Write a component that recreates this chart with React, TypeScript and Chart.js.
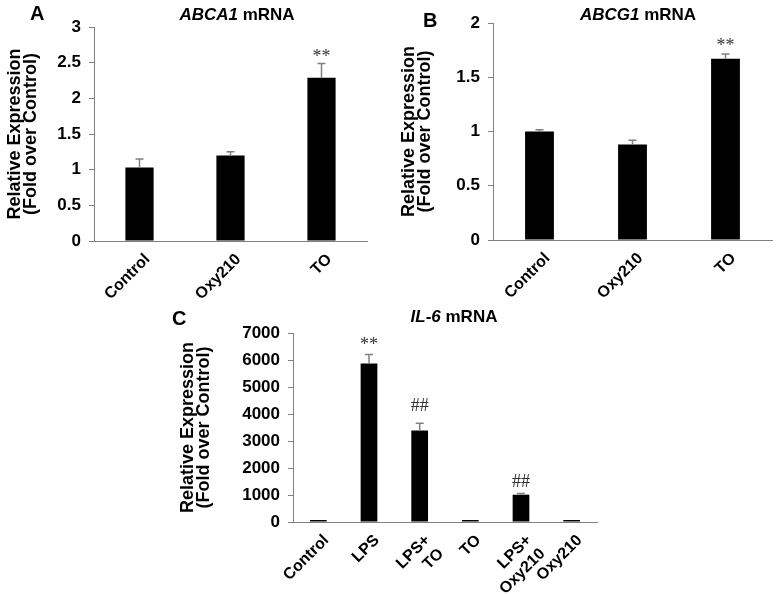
import React, { useEffect, useRef } from 'react';
import { Chart, registerables } from 'chart.js';

Chart.register(...registerables);

const SANS = '"Liberation Sans", Arial, Helvetica, sans-serif';
const SERIF = '"Liberation Serif", "Times New Roman", serif';

// ---------- Panel A: ABCA1 ----------
const categoriesA = ['Control', 'Oxy210', 'TO'];
const valuesA = [1.03, 1.2, 2.29];
const errorsA = [0.12, 0.05, 0.2];
const marksA = ['', '', '**'];
const markLevelsA = [0, 0, 2.63];
const yTicksA = [0, 0.5, 1, 1.5, 2, 2.5, 3];

// ---------- Panel B: ABCG1 ----------
const categoriesB = ['Control', 'Oxy210', 'TO'];
const valuesB = [1.0, 0.88, 1.67];
const errorsB = [0.015, 0.04, 0.045];
const marksB = ['', '', '**'];
const markLevelsB = [0, 0, 1.82];
const yTicksB = [0, 0.5, 1, 1.5, 2];

// ---------- Panel C: IL-6 ----------
const categoriesC = ['Control', 'LPS', ['LPS+', 'TO'], 'TO', ['LPS+', 'Oxy210'], 'Oxy210'];
const valuesC = [1, 5870, 3390, 1, 1010, 1];
const errorsC = [0, 330, 270, 0, 50, 0];
const marksC = ['', '**', '##', '', '##', ''];
const markLevelsC = [0, 6700, 4300, 0, 1480, 0];
const yTicksC = [0, 1000, 2000, 3000, 4000, 5000, 6000, 7000];

const annotPlugin = {
  id: 'annot',
  afterDatasetsDraw(chart: any, _args: any, opts: any) {
    const { ctx } = chart;
    const meta = chart.getDatasetMeta(0);
    const y = chart.scales.y;
    ctx.save();
    ctx.strokeStyle = '#808080';
    ctx.lineWidth = 1.5;
    meta.data.forEach((bar: any, i: number) => {
      const e = opts.errors[i];
      if (e > 0) {
        const yTop = y.getPixelForValue(opts.values[i] + e);
        ctx.beginPath();
        ctx.moveTo(bar.x, bar.y);
        ctx.lineTo(bar.x, yTop);
        ctx.moveTo(bar.x - 4, yTop);
        ctx.lineTo(bar.x + 4, yTop);
        ctx.stroke();
      }
      const m = opts.marks[i];
      if (m) {
        ctx.fillStyle = '#333';
        ctx.font = `18px ${SERIF}`;
        ctx.textAlign = 'center';
        ctx.textBaseline = 'middle';
        const py = y.getPixelForValue(opts.markLevels[i]);
        ctx.fillText(m, bar.x, m === '**' ? py + 4 : py);
      }
    });
    ctx.restore();
  },
  afterDraw(chart: any, _args: any, opts: any) {
    const { ctx } = chart;
    ctx.save();
    ctx.fillStyle = '#000';
    ctx.textBaseline = 'middle';
    ctx.textAlign = 'left';
    // panel letter
    ctx.font = `bold 20px ${SANS}`;
    ctx.fillText(opts.letter, opts.letterX, opts.letterY);
    // title: italic gene + " mRNA"
    const fs = opts.titleSize;
    ctx.font = `italic bold ${fs}px ${SANS}`;
    const w1 = ctx.measureText(opts.gene).width;
    ctx.font = `bold ${fs}px ${SANS}`;
    const w2 = ctx.measureText(' mRNA').width;
    const x0 = opts.titleX - (w1 + w2) / 2;
    ctx.font = `italic bold ${fs}px ${SANS}`;
    ctx.fillText(opts.gene, x0, opts.titleY);
    ctx.font = `bold ${fs}px ${SANS}`;
    ctx.fillText(' mRNA', x0 + w1, opts.titleY);
    ctx.restore();
  },
};

type PanelCfg = {
  left: number; top: number; width: number; height: number;
  yWidth: number; xHeight: number; padTop: number; padRight: number;
  titlePad: number; barPct: number;
  categories: any[]; values: number[]; errors: number[]; marks: string[]; markLevels: number[];
  yTicks: number[];
  letter: string; letterX: number; letterY: number;
  gene: string; titleX: number; titleY: number; titleSize: number;
  labelOffset: number; labelPad: number;
};

function Panel({ cfg }: { cfg: PanelCfg }) {
  const ref = useRef<HTMLCanvasElement>(null);
  useEffect(() => {
    if (!ref.current) return;
    const chart = new Chart(ref.current, {
      type: 'bar',
      data: {
        labels: cfg.categories,
        datasets: [
          {
            data: cfg.values,
            backgroundColor: '#000',
            borderWidth: 0,
            barPercentage: cfg.barPct,
            categoryPercentage: 1,
            minBarLength: 2,
          } as any,
        ],
      },
      options: {
        animation: false,
        responsive: false,
        devicePixelRatio: 1,
        layout: { padding: { top: cfg.padTop, right: cfg.padRight, left: 0, bottom: 0 } },
        plugins: {
          legend: { display: false },
          tooltip: { enabled: false },
          annot: {
            values: cfg.values, errors: cfg.errors, marks: cfg.marks, markLevels: cfg.markLevels,
            letter: cfg.letter, letterX: cfg.letterX, letterY: cfg.letterY,
            gene: cfg.gene, titleX: cfg.titleX, titleY: cfg.titleY, titleSize: cfg.titleSize,
          },
        } as any,
        scales: {
          x: {
            type: 'category',
            offset: true,
            grid: { display: true, drawOnChartArea: false, drawTicks: false },
            border: { color: '#808080', width: 1 },
            ticks: {
              font: { family: SANS, size: 16, weight: 'bold' },
              color: '#000',
              maxRotation: 45,
              minRotation: 45,
              autoSkip: false,
              padding: cfg.labelPad,
              labelOffset: cfg.labelOffset,
            },
            afterFit: (s: any) => { s.height = cfg.xHeight; },
          } as any,
          y: {
            min: cfg.yTicks[0],
            max: cfg.yTicks[cfg.yTicks.length - 1],
            afterBuildTicks: (s: any) => { s.ticks = cfg.yTicks.map((v) => ({ value: v })); },
            ticks: {
              callback: (v: any) => String(v),
              font: { family: SANS, size: 17, weight: 'bold' },
              color: '#000',
              padding: 8,
            },
            grid: { drawOnChartArea: false, drawTicks: true, tickLength: 5, color: '#808080' },
            border: { color: '#808080', width: 1 },
            title: {
              display: true,
              text: ['Relative Expression', '(Fold over Control)'],
              font: { family: SANS, size: 18, weight: 'bold', lineHeight: 0.9 },
              color: '#000',
              padding: { top: cfg.titlePad, bottom: 0 },
            },
            afterFit: (s: any) => { s.width = cfg.yWidth; },
          } as any,
        },
      },
      plugins: [annotPlugin as any],
    });
    return () => chart.destroy();
  }, []);
  return (
    <canvas
      ref={ref}
      width={cfg.width}
      height={cfg.height}
      style={{ position: 'absolute', left: cfg.left, top: cfg.top, width: cfg.width, height: cfg.height }}
    />
  );
}

const panelA: PanelCfg = {
  left: 0, top: 0, width: 390, height: 310,
  yWidth: 94, xHeight: 69, padTop: 27, padRight: 23, titlePad: 7, barPct: 0.31,
  categories: categoriesA, values: valuesA, errors: errorsA, marks: marksA, markLevels: markLevelsA,
  yTicks: yTicksA, letter: 'A', letterX: 30, letterY: 14, gene: 'ABCA1', titleX: 237, titleY: 15, titleSize: 17,
  labelOffset: 8, labelPad: 9,
};

const panelB: PanelCfg = {
  left: 390, top: 0, width: 388, height: 310,
  yWidth: 103, xHeight: 70, padTop: 23, padRight: 6, titlePad: 11, barPct: 0.31,
  categories: categoriesB, values: valuesB, errors: errorsB, marks: marksB, markLevels: markLevelsB,
  yTicks: yTicksB, letter: 'B', letterX: 33, letterY: 21, gene: 'ABCG1', titleX: 248, titleY: 15, titleSize: 17,
  labelOffset: 8, labelPad: 9,
};

const panelC: PanelCfg = {
  left: 170, top: 300, width: 440, height: 294,
  yWidth: 123, xHeight: 72, padTop: 33, padRight: 13, titlePad: 10, barPct: 0.33,
  categories: categoriesC, values: valuesC, errors: errorsC, marks: marksC, markLevels: markLevelsC,
  yTicks: yTicksC, letter: 'C', letterX: 2, letterY: 19, gene: 'IL-6', titleX: 284, titleY: 17, titleSize: 17,
  labelOffset: 8, labelPad: 9,
};

export default function App() {
  return (
    <div style={{ position: 'absolute', left: 0, top: 0, width: 778, height: 594, background: '#fff' }}>
      <Panel cfg={panelA} />
      <Panel cfg={panelB} />
      <Panel cfg={panelC} />
    </div>
  );
}
